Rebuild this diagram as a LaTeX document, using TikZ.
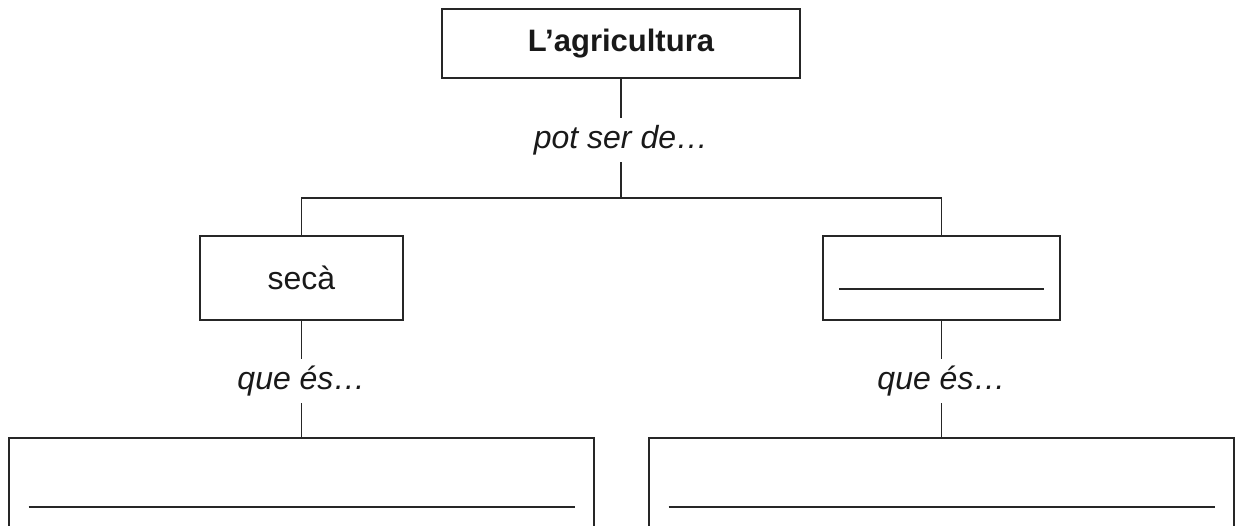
\documentclass[tikz,border=0pt]{standalone}
\usepackage{fontspec}
\setmainfont{Liberation Sans}
\tikzset{
  box/.style={draw=black!85, line width=0.8pt, minimum height=42pt, inner sep=0pt},
  tag/.style={font=\itshape\fontsize{16}{19}\selectfont, minimum height=22pt, inner sep=0pt},
  wire/.style={draw=black!85, line width=0.8pt},
  blank/.style={draw=black!85, line width=0.8pt}
}
\begin{document}
\begin{tikzpicture}[x=0.5pt, y=-0.5pt, font=\fontsize{16}{19}\selectfont, text=black!90]
\path[use as bounding box, clip] (0,0) rectangle (1241,525);
\node[box, minimum width=179pt, minimum height=34.5pt, font=\bfseries\fontsize{15.5}{19}\selectfont] (A) at (621,43.5) {L’agricultura};
\node[tag] (P) at (621,140) {pot ser de…};
\coordinate (F) at (621,198);
\node[box, minimum width=101.5pt] (S) at (301.5,278) {secà};
\node[box, minimum width=118.5pt] (R) at (941.5,278) {};
\node[tag] (Q1) at (301.5,381) {que és…};
\node[tag] (Q2) at (941.5,381) {que és…};
\node[box, minimum width=292.5pt, minimum height=54pt, anchor=north] (D1) at (301.5,437) {};
\node[box, minimum width=292.5pt, minimum height=54pt, anchor=north] (D2) at (941.5,437) {};
% tree lines
\path[wire] (A) -- (P) (P) -- (F) (S) |- (F) -| (R)
  (S) -- (Q1) (Q1) -- (D1) (R) -- (Q2) (Q2) -- (D2);
% lines to fill in
\draw[blank] ([shift={(-51.25pt,-5.5pt)}]R.center) -- ([shift={(51.25pt,-5.5pt)}]R.center);
\draw[blank] ([shift={(-136.5pt,-7.5pt)}]D1.center) -- ([shift={(136.5pt,-7.5pt)}]D1.center);
\draw[blank] ([shift={(-136.5pt,-7.5pt)}]D2.center) -- ([shift={(136.5pt,-7.5pt)}]D2.center);
\end{tikzpicture}
\end{document}
